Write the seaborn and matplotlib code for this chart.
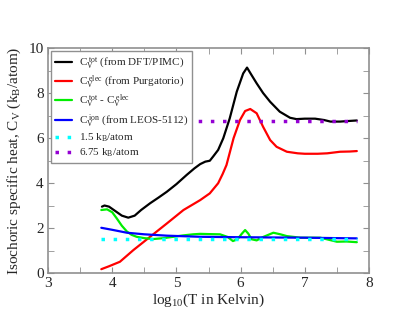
import matplotlib
matplotlib.use("Agg")
import matplotlib.pyplot as plt
import numpy as np
import pandas as pd
import seaborn as sns

# total heat capacity (DFT/PIMC)
x_tot = [3.84, 3.88, 3.95, 4.05, 4.15, 4.25, 4.35, 4.45, 4.59, 4.72, 4.85, 5.0, 5.16, 5.28, 5.37, 5.45,
         5.52, 5.57, 5.65, 5.73, 5.83, 5.94, 6.04, 6.10, 6.17, 6.25, 6.35, 6.46, 6.61, 6.77, 6.87,
         7.0, 7.16, 7.3, 7.4, 7.55, 7.7, 7.81]
y_tot = [2.95, 3.0, 2.95, 2.75, 2.55, 2.46, 2.55, 2.8, 3.1, 3.35, 3.61, 3.95, 4.36, 4.65, 4.84, 4.95,
         4.99, 5.17, 5.47, 5.99, 6.87, 8.06, 8.87, 9.13, 8.8, 8.43, 8.0, 7.61, 7.17, 6.9, 6.84,
         6.86, 6.86, 6.8, 6.73, 6.73, 6.76, 6.78]

# electronic (Purgatorio)
x_elec = [3.83, 3.95, 4.12, 4.33, 4.59, 4.85, 5.11, 5.37, 5.52, 5.65, 5.72, 5.78, 5.89, 5.99, 6.07,
          6.15, 6.25, 6.35, 6.46, 6.56, 6.72, 6.89, 7.0, 7.2, 7.35, 7.55, 7.7, 7.81]
y_elec = [0.17, 0.3, 0.5, 1.02, 1.61, 2.2, 2.8, 3.24, 3.54, 3.99, 4.4, 4.8, 5.99, 6.8, 7.2,
          7.29, 7.1, 6.5, 5.91, 5.61, 5.39, 5.32, 5.3, 5.3, 5.32, 5.39, 5.4, 5.42]

# tot - elec
x_diff = [3.83, 3.92, 4.0, 4.07, 4.15, 4.23, 4.3, 4.38, 4.5, 4.64, 4.8, 4.95, 5.1, 5.26, 5.37, 5.5,
          5.68, 5.8, 5.88, 5.95, 6.02, 6.07, 6.12, 6.17, 6.25, 6.35, 6.51, 6.62, 6.72, 6.93, 7.1,
          7.24, 7.4, 7.5, 7.65, 7.81]
y_diff = [2.8, 2.83, 2.7, 2.43, 2.1, 1.84, 1.7, 1.61, 1.55, 1.51, 1.55, 1.61, 1.67, 1.72, 1.74, 1.73,
          1.72, 1.6, 1.42, 1.5, 1.75, 1.91, 1.75, 1.5, 1.45, 1.6, 1.79, 1.72, 1.64, 1.57, 1.57,
          1.57, 1.46, 1.39, 1.40, 1.37]

# ionic (LEOS-5112)
x_ion = [3.83, 4.0, 4.23, 4.5, 4.85, 5.37, 6.0, 6.5, 7.0, 7.5, 7.81]
y_ion = [2.01, 1.92, 1.79, 1.72, 1.66, 1.61, 1.59, 1.58, 1.57, 1.55, 1.54]

# reference levels
x_ref = [3.83, 7.81]
y_15 = [1.5, 1.5]
y_675 = [6.75, 6.75]

sns.set_style("ticks")
plt.rcParams["font.family"] = ["Liberation Serif", "DejaVu Serif"]
plt.rcParams["mathtext.fontset"] = "custom"
plt.rcParams["mathtext.rm"] = "Liberation Serif"
plt.rcParams["mathtext.it"] = "Liberation Serif"

fig = plt.figure(figsize=(4.15, 3.21), dpi=100)
ax = fig.add_axes([0.1157, 0.1495, 0.7735, 0.7009])

lw = 1.6
sns.lineplot(x=x_tot, y=y_tot, color="black", lw=lw, ax=ax,
             label=r"$\mathregular{C_V^{\ tot}}$ (from DFT/PIMC)")
sns.lineplot(x=x_elec, y=y_elec, color="red", lw=lw, ax=ax,
             label=r"$\mathregular{C_V^{\ elec}}$ (from Purgatorio)")
sns.lineplot(x=x_diff, y=y_diff, color="#00ee00", lw=lw, ax=ax,
             label=r"$\mathregular{C_V^{\ tot}}$ - $\mathregular{C_V^{\ elec}}$")
sns.lineplot(x=x_ion, y=y_ion, color="blue", lw=lw, ax=ax,
             label=r"$\mathregular{C_V^{\ ion}}$ (from LEOS-5112)")
sns.lineplot(x=x_ref, y=y_15, color="cyan", lw=2.5, ls=(0, (1, 2.5)), ax=ax,
             label=r"1.5 $\mathregular{k_B}$/atom")
sns.lineplot(x=x_ref, y=y_675, color="#9400d3", lw=2.5, ls=(0, (1, 2.5)), ax=ax,
             label=r"6.75 $\mathregular{k_B}$/atom")

ax.set_xlim(3, 8)
ax.set_ylim(0, 10)
ax.set_xticks([3, 4, 5, 6, 7, 8])
ax.set_xticks(np.arange(3.5, 8, 1), minor=True)
ax.set_yticks([0, 2, 4, 6, 8, 10])
ax.set_yticks([1, 3, 5, 7, 9], minor=True)
ax.tick_params(which="both", direction="in", top=True, right=True, length=4,
               color="#909090", labelsize=11, pad=3)
for s in ax.spines.values():
    s.set_color("#909090")
    s.set_linewidth(1.2)

ax.set_xlabel(r"log$_{10}$(T in Kelvin)", fontsize=11, labelpad=1)
ax.set_ylabel(r"Isochoric specific heat, $\mathregular{C_V}$ ($\mathregular{k_B}$/atom)", fontsize=11, labelpad=4)

leg = ax.legend(loc="upper left", fontsize=8, handlelength=1.5, handletextpad=0.6,
                borderaxespad=0.3, labelspacing=0.22, borderpad=0.35, fancybox=False,
                framealpha=1, edgecolor="#909090")
leg.get_frame().set_linewidth(1.0)

fig.savefig("out.png", dpi=100)
